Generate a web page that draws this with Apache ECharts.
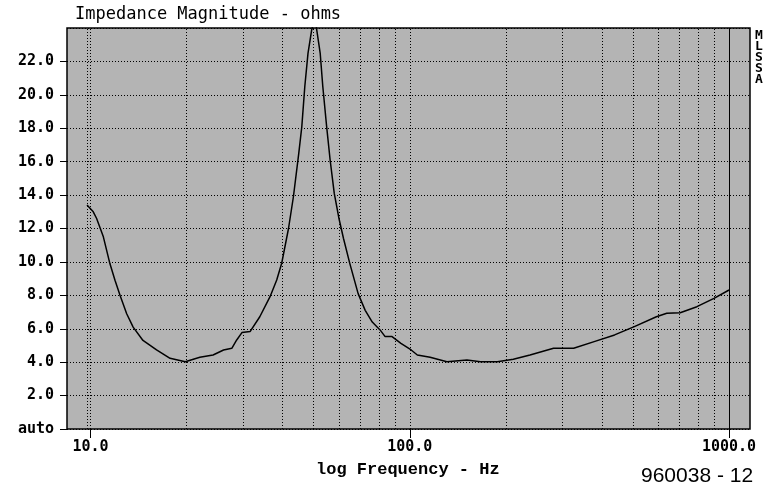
<!DOCTYPE html>
<html>
<head>
<meta charset="utf-8">
<script src="https://cdn.jsdelivr.net/npm/echarts@6/dist/echarts.min.js"></script>
<style>
  html, body { margin: 0; padding: 0; background: #fff; }
  #chart { width: 770px; height: 486px; }
</style>
</head>
<body>
<div id="chart"></div>
<script>
// impedance curve (Hz, ohms)
var freq = [9.75, 10.2, 10.45, 10.97, 11.5, 11.93, 12.37, 12.98, 13.6, 14.6,
	16.1, 17.75, 19.8, 22.0, 24.2, 26.1, 27.7, 28.7, 29.8, 31.6,
	33.9, 36.5, 38.3, 39.7, 41.7, 43.2, 44.9, 45.9, 46.9, 48.0,
	49.3, 50.5, 51.1, 52.4, 53.4, 54.9, 56.3, 58.0, 60.0, 62.0,
	64.9, 68.9, 72.5, 76.3, 80.7, 83.7, 88.0, 93.8, 101, 105.6,
	115.8, 130.7, 151, 166.6, 188, 211, 238, 282, 326, 378,
	438, 505, 592, 638, 703, 793, 897, 1000];
var ohms = [13.4, 13.0, 12.6, 11.5, 9.9, 8.9, 8.0, 6.9, 6.1, 5.3,
	4.73, 4.23, 4.03, 4.29, 4.43, 4.73, 4.83, 5.33, 5.77, 5.83,
	6.72, 7.92, 8.92, 9.92, 12.0, 13.9, 16.5, 18.1, 20.5, 22.5,
	23.9, 24.6, 23.9, 22.5, 20.5, 18.1, 16.1, 14.1, 12.6, 11.4,
	9.9, 8.1, 7.1, 6.4, 5.93, 5.53, 5.53, 5.13, 4.73, 4.43,
	4.29, 4.03, 4.13, 4.03, 4.03, 4.17, 4.43, 4.83, 4.83, 5.23,
	5.63, 6.13, 6.72, 6.93, 6.96, 7.32, 7.82, 8.32];
// vertical grid lines on the log axis
var xGrid = [9.75, 10, 20, 30, 40, 50, 60, 70, 80, 90, 100,
	200, 300, 400, 500, 600, 700, 800, 900];
var xSolid = [1000];

var chart = echarts.init(document.getElementById('chart'));

var pts = [];
for (var i = 0; i < freq.length; i++) pts.push([freq[i], ohms[i]]);

var gridMarks = [];
xGrid.forEach(function (v) { gridMarks.push({ xAxis: v }); });
xSolid.forEach(function (v) {
	gridMarks.push({ xAxis: v, lineStyle: { type: 'solid', width: 1, color: '#000' } });
});

var mono = '"DejaVu Sans Mono", "Liberation Mono", monospace';

var option = {
	animation: false,
	backgroundColor: '#fff',
	title: {
		text: 'Impedance Magnitude - ohms',
		left: 70,
		top: 1,
		textStyle: { fontFamily: mono, fontSize: 17, fontWeight: 'normal', color: '#000' }
	},
	grid: {
		left: 67, top: 28, right: 20, bottom: 57,
		show: true,
		backgroundColor: '#b4b4b4',
		borderColor: '#000',
		borderWidth: 1.5
	},
	xAxis: {
		type: 'log',
		min: 8.44,
		max: 1163,
		axisLine: { show: false },
		axisTick: { show: true, length: 9, lineStyle: { color: '#000' } },
		splitLine: { show: false },
		axisLabel: {
			showMinLabel: false,
			showMaxLabel: false,
			margin: 11,
			color: '#000',
			fontFamily: mono,
			fontWeight: 'bold',
			fontSize: 15,
			formatter: function (v) { return Number(v).toFixed(1); }
		}
	},
	yAxis: {
		type: 'value',
		min: 0,
		max: 24,
		interval: 2,
		axisLine: { show: false },
		axisTick: { show: true, length: 7, lineStyle: { color: '#000' } },
		splitLine: { show: true, lineStyle: { color: '#000', type: [1, 2], width: 1 } },
		axisLabel: {
			showMaxLabel: false,
			margin: 13,
			color: '#000',
			fontFamily: mono,
			fontWeight: 'bold',
			fontSize: 15,
			formatter: function (v) { return v === 0 ? 'auto' : v.toFixed(1); }
		}
	},
	series: [{
		type: 'line',
		data: pts,
		showSymbol: false,
		smooth: false,
		clip: true,
		lineStyle: { color: '#000', width: 1.5 },
		markLine: {
			silent: true,
			symbol: 'none',
			label: { show: false },
			lineStyle: { color: '#000', type: [1, 2], width: 1 },
			data: gridMarks
		}
	}],
	graphic: [
		{
			type: 'text', left: 316, top: 461,
			style: { text: 'log Frequency - Hz', fontFamily: '"Liberation Mono", monospace', fontSize: 17, fontWeight: 'bold', fill: '#000' }
		},
		{
			type: 'text', left: 641, top: 466,
			style: { text: '960038 - 12', fontFamily: '"Liberation Sans", Arial, sans-serif', fontSize: 21, fill: '#000' }
		},
		{
			type: 'text', left: 755, top: 29,
			style: { text: 'M\nL\nS\nS\nA', fontFamily: mono, fontWeight: 'bold', fontSize: 13, lineHeight: 11, fill: '#000' }
		}
	]
};
chart.setOption(option);
</script>
</body>
</html>
